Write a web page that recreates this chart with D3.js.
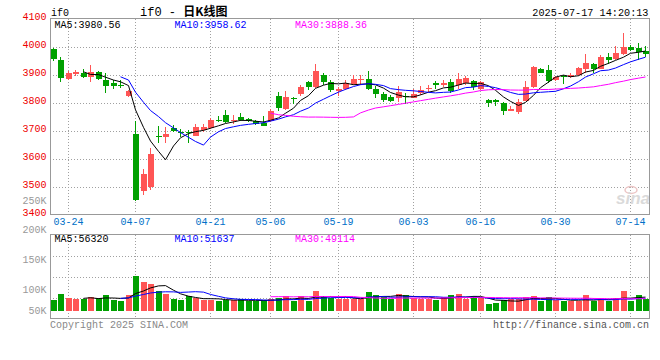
<!DOCTYPE html>
<html><head><meta charset="utf-8">
<script src="https://cdn.jsdelivr.net/npm/d3@7"></script>
<style>body{margin:0;background:#fff}svg{display:block}</style>
</head><body><svg id="c" width="660" height="360"></svg>
<script>
const dates = ["03-20","03-21","03-24","03-25","03-26","03-27","03-28","03-31","04-01","04-02","04-03","04-07","04-08","04-09","04-10","04-11","04-14","04-15","04-16","04-17","04-18","04-21","04-22","04-23","04-24","04-25","04-28","04-29","04-30","05-06","05-07","05-08","05-09","05-12","05-13","05-14","05-15","05-16","05-19","05-20","05-21","05-22","05-23","05-26","05-27","05-28","05-29","05-30","06-03","06-04","06-05","06-06","06-09","06-10","06-11","06-12","06-13","06-16","06-17","06-18","06-19","06-20","06-23","06-24","06-25","06-26","06-27","06-30","07-01","07-02","07-03","07-04","07-07","07-08","07-09","07-10","07-11","07-14","07-15","07-16"];
const openP  = [3990,3951,3883,3902,3905,3890,3908,3880,3870,3863,3822,3687,3484,3499,3680,3677,3709,3695,3694,3682,3701,3708,3737,3757,3737,3749,3740,3734,3727,3733,3822,3777,3817,3830,3874,3854,3898,3872,3841,3848,3866,3879,3884,3849,3830,3820,3817,3824,3817,3833,3847,3868,3864,3874,3862,3870,3876,3849,3808,3808,3799,3770,3767,3806,3856,3919,3915,3881,3894,3892,3898,3921,3937,3920,3963,3955,3975,3998,3993,3983];
const highP  = [3995,3961,3911,3915,3920,3934,3912,3905,3880,3880,3844,3735,3561,3636,3715,3711,3719,3704,3702,3725,3723,3746,3751,3773,3755,3761,3743,3739,3751,3777,3836,3840,3820,3864,3877,3937,3907,3880,3854,3880,3900,3900,3912,3858,3838,3826,3858,3835,3848,3858,3864,3877,3880,3883,3904,3894,3882,3876,3811,3811,3802,3787,3811,3876,3931,3925,3935,3895,3900,3904,3927,3975,3942,3970,3977,4002,4048,4005,4014,4001];
const lowP   = [3949,3874,3880,3896,3888,3873,3879,3834,3850,3852,3820,3450,3470,3487,3656,3654,3696,3677,3654,3680,3695,3706,3730,3727,3723,3734,3731,3721,3716,3731,3770,3775,3794,3825,3844,3852,3862,3837,3823,3844,3862,3862,3844,3816,3801,3801,3801,3796,3815,3826,3838,3850,3856,3835,3850,3862,3844,3846,3785,3787,3757,3768,3758,3804,3852,3904,3871,3876,3865,3889,3895,3904,3904,3918,3939,3951,3971,3985,3951,3961];
const closeP = [3955,3886,3906,3910,3891,3908,3884,3859,3859,3860,3840,3451,3546,3615,3676,3689,3698,3692,3690,3711,3711,3737,3735,3731,3739,3739,3735,3722,3717,3769,3782,3818,3812,3856,3854,3913,3874,3844,3848,3868,3883,3884,3850,3831,3809,3805,3837,3820,3830,3844,3853,3864,3870,3842,3883,3888,3856,3874,3799,3801,3769,3777,3801,3854,3927,3906,3876,3890,3890,3898,3924,3942,3919,3963,3951,3977,3999,3989,3981,3973];
const volume = [43000,68000,51000,47000,47000,55000,51000,64000,46000,39000,64000,140000,116000,108000,80000,70000,47000,43000,60000,54000,46000,46000,40000,46000,43000,47000,40000,40000,43000,47000,53000,61000,40000,60000,40000,80000,61000,53000,49000,49000,49000,49000,76000,64000,57000,50000,68000,64000,54000,49000,49000,46000,55000,64000,68000,49000,60000,54000,27000,31000,43000,49000,49000,55000,60000,39000,55000,46000,39000,39000,39000,64000,39000,51000,39000,51000,80000,39000,64000,47000];
const priceTicks = [3400,3500,3600,3700,3800,3900,4000,4100];
const volTicks = [50000,100000,150000,200000,250000];
const dateTicks = ["03-24","04-07","04-21","05-06","05-19","06-03","06-16","06-30","07-14"];
const priceMALabels = ["MA5:3980.56","MA10:3958.62","MA30:3888.36"];
const volMALabels = ["MA5:56320","MA10:51637","MA30:49114"];
const maPeriods = [5,10,30];
const maColors = ["#000000","#0000ff","#ff00ff"];
const titleCode = "if0 - ";
const titleName = "日K线图";
const codeText = "if0";
const stampText = "2025-07-17 14:20:13";
const copyText = "Copyright 2025 SINA.COM";
const urlText = "http://finance.sina.com.cn";

const RED = "#ff5555", GREEN = "#00a000";
const MONO = "'Liberation Mono','DejaVu Sans Mono',monospace";
const svg = d3.select("#c");

const L = 50, R = 649.5;
const mainTop = 18.5, mainBot = 214.5;
const volTop = 234.5, volBot = 318.5, volBase = 311;

const x = d3.scaleBand().domain(dates).range([50, 650]).paddingInner(0.2).paddingOuter(0.1);
const bw = x.bandwidth();
const cx = d => Math.round(x(d)) + 2.5;
const y = d3.scaleLinear().domain([3400, 4100]).range([mainBot, mainTop]);
const yVol = d3.scaleLinear().domain([0, 100000]).range([volBase, volBase - 24.7]);
const volLabelScale = d3.scaleLinear().domain([100000, 250000]).range([293, 203.7]);

function ma(arr, n) {
  return arr.map((v, i) => i < n - 1 ? null : d3.mean(arr.slice(i - n + 1, i + 1)));
}

const grid = svg.append("g").attr("stroke", "#a0a0a0").attr("stroke-dasharray", "1,2").attr("shape-rendering", "crispEdges");
priceTicks.filter(t => t > 3400 && t < 4100).forEach(t => {
  grid.append("line").attr("x1", L).attr("x2", R).attr("y1", Math.round(y(t)) + 0.5).attr("y2", Math.round(y(t)) + 0.5);
});
dateTicks.forEach(t => {
  const gx = cx(t);
  grid.append("line").attr("x1", gx).attr("x2", gx).attr("y1", mainTop).attr("y2", mainBot);
  grid.append("line").attr("x1", gx).attr("x2", gx).attr("y1", volTop).attr("y2", volBot);
});
[1, 2, 3].forEach(k => {
  const gy = Math.round(volTop + (volBot - volTop) * k / 4) + 0.5;
  grid.append("line").attr("x1", L).attr("x2", R).attr("y1", gy).attr("y2", gy);
});

// watermark
const wm = svg.append("g");
wm.append("ellipse").attr("cx", 631).attr("cy", 190).attr("rx", 6).attr("ry", 3.5).attr("fill", "none").attr("stroke", "#ecc6c6").attr("stroke-width", 1.5);
wm.append("text").attr("x", 650).attr("y", 204).attr("text-anchor", "end")
  .attr("font-family", "'Liberation Sans',Arial,sans-serif").attr("font-size", 17).attr("font-style", "italic").attr("font-weight", "bold")
  .attr("fill", "#dadada").text("sina");

// candles
const cg = svg.append("g").attr("shape-rendering", "crispEdges");
dates.forEach((d, i) => {
  const up = closeP[i] >= openP[i];
  const col = up ? RED : GREEN;
  const wx = cx(d);
  cg.append("line").attr("x1", wx).attr("x2", wx).attr("y1", y(highP[i])).attr("y2", y(lowP[i])).attr("stroke", col);
  const top = y(Math.max(openP[i], closeP[i]));
  const h = Math.max(1, Math.abs(y(openP[i]) - y(closeP[i])));
  cg.append("rect").attr("x", Math.round(x(d))).attr("width", bw).attr("y", top).attr("height", h).attr("fill", col);
});

const lineMain = d3.line().defined(p => p[1] != null).x(p => cx(p[0])).y(p => y(p[1]));
maPeriods.forEach((n, k) => {
  const m = ma(closeP, n);
  svg.append("path").datum(dates.map((d, i) => [d, m[i]])).attr("d", lineMain)
    .attr("fill", "none").attr("stroke", maColors[k]).attr("stroke-width", 1);
});

// volume bars
const vg = svg.append("g").attr("shape-rendering", "crispEdges");
dates.forEach((d, i) => {
  const col = closeP[i] >= openP[i] ? RED : GREEN;
  vg.append("rect").attr("x", Math.round(x(d))).attr("width", bw)
    .attr("y", yVol(volume[i])).attr("height", volBase - yVol(volume[i])).attr("fill", col);
});
const lineVol = d3.line().defined(p => p[1] != null).x(p => cx(p[0])).y(p => yVol(p[1]));
maPeriods.forEach((n, k) => {
  const m = ma(volume, n);
  svg.append("path").datum(dates.map((d, i) => [d, m[i]])).attr("d", lineVol)
    .attr("fill", "none").attr("stroke", maColors[k]).attr("stroke-width", 1);
});

// borders
const bg = svg.append("g").attr("fill", "none").attr("stroke", "#999").attr("shape-rendering", "crispEdges");
bg.append("rect").attr("x", L).attr("y", mainTop).attr("width", R - L).attr("height", mainBot - mainTop);
bg.append("rect").attr("x", L).attr("y", volTop).attr("width", R - L).attr("height", volBot - volTop);

const T = (xx, yy, s, col, anchor, size, fam) => svg.append("text").attr("x", xx).attr("y", yy)
  .attr("fill", col).attr("text-anchor", anchor || "start").attr("font-size", size || 10)
  .attr("font-family", fam || MONO).text(s);

priceTicks.forEach(t => T(46.5, y(t) + 1.5, String(t), "#ee0000", "end"));
volTicks.forEach(t => T(46.5, Math.min(volLabelScale(t), 314), (t / 1000) + "K", "#999999", "end"));
dateTicks.forEach(t => {
  const tx = T(cx(t), 224.5, t, "#0070c8", "middle");
  const w = tx.node().getComputedTextLength();
  if (cx(t) + w / 2 > R - 1) tx.attr("x", R - 1 - w / 2);
});
const labelX = [54.5, 174.5, 295];
priceMALabels.forEach((s, k) => T(labelX[k], 27.5, s, maColors[k]));
volMALabels.forEach((s, k) => T(labelX[k], 241.5, s, maColors[k]));
T(51, 16, codeText, "#000");
const tt = T(140, 15.5, titleCode, "#000", "start", 12);
tt.attr("xml:space", "preserve").style("white-space", "pre");
tt.append("tspan").attr("font-family", "'Noto Sans CJK SC',sans-serif").attr("font-weight", "bold").attr("font-size", 12).text(titleName);
T(648.5, 15.5, stampText, "#000", "end", 10.2);
T(50, 327.5, copyText, "#888888");
T(649, 327.5, urlText, "#555555", "end");
</script></body></html>
